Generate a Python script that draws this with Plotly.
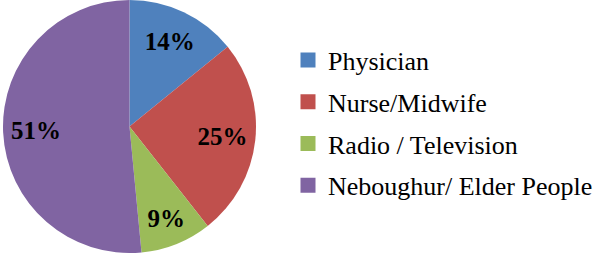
import plotly.graph_objects as go

labels = ["Physician", "Nurse/Midwife", "Radio / Television", "Neboughur/ Elder People"]
values = [14, 25, 9, 51]
colors = ["#4F81BD", "#C0504D", "#9BBB59", "#8064A2"]

W, H = 598, 258
SERIF = "Liberation Serif, Times New Roman, serif"
dom = dict(x=[0, 259 / W], y=[5 / H, 1])

fig = go.Figure()
# the pie slices
fig.add_trace(go.Pie(
    labels=labels, values=values, sort=False, direction="clockwise", rotation=0,
    marker=dict(colors=colors, line=dict(width=0)),
    textinfo="none", showlegend=False, hoverinfo="label+percent", domain=dom,
))
# transparent ring that carries the percentage labels further out
fig.add_trace(go.Pie(
    labels=labels, values=values, sort=False, direction="clockwise", rotation=0,
    hole=0.48,
    marker=dict(colors=["rgba(0,0,0,0)"] * len(values), line=dict(width=0)),
    texttemplate="%{value}%", textposition="inside", insidetextorientation="horizontal",
    textfont=dict(family=SERIF, size=25, color="black", weight="bold"),
    showlegend=False, hoverinfo="skip", domain=dom,
))

# legend entries (one per slice, from the same arrays)
for i, (lab, col) in enumerate(zip(labels, colors)):
    fig.add_trace(go.Scatter(
        x=[None], y=[None], mode="markers", name=lab,
        marker=dict(symbol="square", size=15, color=col),
        legendgroup=f"g{i}", showlegend=True,
    ))

fig.update_layout(
    width=W, height=H,
    margin=dict(l=0, r=0, t=0, b=0, autoexpand=False),
    font=dict(family=SERIF, color="black"),
    paper_bgcolor="white", plot_bgcolor="white",
    xaxis=dict(visible=False), yaxis=dict(visible=False),
    legend=dict(
        x=288 / W, xanchor="left", y=1 - 123 / H, yanchor="middle",
        font=dict(family=SERIF, size=26, color="black"),
        tracegroupgap=5, bgcolor="rgba(0,0,0,0)", borderwidth=0,
    ),
)

fig.write_html("out.html", config={"displayModeBar": False},
               post_script="document.body.style.margin='0';")
